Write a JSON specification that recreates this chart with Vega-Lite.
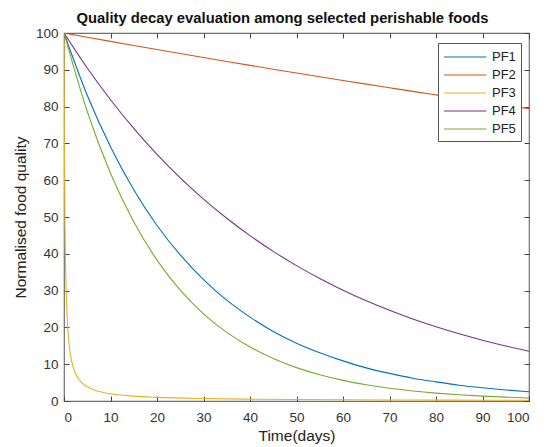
{
  "$schema": "https://vega.github.io/schema/vega-lite/v6.json",
  "width": 465,
  "height": 368,
  "autosize": {"type": "none"},
  "padding": {"left": 64, "top": 33, "right": 22, "bottom": 46},
  "background": "white",
  "config": {
    "font": "Liberation Sans",
    "view": {"stroke": "#707070", "strokeWidth": 1.2},
    "axis": {"grid": false, "domain": false, "tickColor": "#444444", "tickSize": -5, "labelColor": "#333333", "labelFontSize": 13.5, "titleColor": "#222222", "titleFontSize": 15.5, "titleFontWeight": "normal"}
  },
  "title": {"text": "Quality decay evaluation among selected perishable foods", "fontSize": 14.8, "fontWeight": "bold", "color": "#111111", "anchor": "middle", "dx": -14, "offset": 0},
  "data": {"values": [
    {"series": "PF1", "t": 0, "q": 100}, {"series": "PF1", "t": 5, "q": 83.1}, {"series": "PF1", "t": 10, "q": 69.1}, {"series": "PF1", "t": 15, "q": 57.4}, {"series": "PF1", "t": 20, "q": 47.7}, {"series": "PF1", "t": 25, "q": 39.7}, {"series": "PF1", "t": 30, "q": 33.0}, {"series": "PF1", "t": 35, "q": 27.4}, {"series": "PF1", "t": 40, "q": 22.8}, {"series": "PF1", "t": 45, "q": 18.9}, {"series": "PF1", "t": 50, "q": 15.7}, {"series": "PF1", "t": 55, "q": 13.1}, {"series": "PF1", "t": 60, "q": 10.9}, {"series": "PF1", "t": 65, "q": 9.0}, {"series": "PF1", "t": 70, "q": 7.5}, {"series": "PF1", "t": 75, "q": 6.2}, {"series": "PF1", "t": 80, "q": 5.2}, {"series": "PF1", "t": 85, "q": 4.3}, {"series": "PF1", "t": 90, "q": 3.6}, {"series": "PF1", "t": 95, "q": 3.0}, {"series": "PF1", "t": 100, "q": 2.5},
    {"series": "PF2", "t": 0, "q": 100}, {"series": "PF2", "t": 5, "q": 98.86}, {"series": "PF2", "t": 10, "q": 97.73}, {"series": "PF2", "t": 15, "q": 96.61}, {"series": "PF2", "t": 20, "q": 95.5}, {"series": "PF2", "t": 25, "q": 94.41}, {"series": "PF2", "t": 30, "q": 93.33}, {"series": "PF2", "t": 35, "q": 92.26}, {"series": "PF2", "t": 40, "q": 91.2}, {"series": "PF2", "t": 45, "q": 90.16}, {"series": "PF2", "t": 50, "q": 89.13}, {"series": "PF2", "t": 55, "q": 88.11}, {"series": "PF2", "t": 60, "q": 87.1}, {"series": "PF2", "t": 65, "q": 86.1}, {"series": "PF2", "t": 70, "q": 85.12}, {"series": "PF2", "t": 75, "q": 84.14}, {"series": "PF2", "t": 80, "q": 83.18}, {"series": "PF2", "t": 85, "q": 82.23}, {"series": "PF2", "t": 90, "q": 81.29}, {"series": "PF2", "t": 95, "q": 80.36}, {"series": "PF2", "t": 100, "q": 79.45},
    {"series": "PF3", "t": 0, "q": 100}, {"series": "PF3", "t": 0.05, "q": 80}, {"series": "PF3", "t": 0.1, "q": 66.7}, {"series": "PF3", "t": 0.2, "q": 50}, {"series": "PF3", "t": 0.3, "q": 40}, {"series": "PF3", "t": 0.5, "q": 28.6}, {"series": "PF3", "t": 0.75, "q": 21.1}, {"series": "PF3", "t": 1, "q": 16.7}, {"series": "PF3", "t": 1.5, "q": 11.8}, {"series": "PF3", "t": 2, "q": 9.1}, {"series": "PF3", "t": 3, "q": 6.25}, {"series": "PF3", "t": 4, "q": 4.76}, {"series": "PF3", "t": 5, "q": 3.85}, {"series": "PF3", "t": 7, "q": 2.78}, {"series": "PF3", "t": 10, "q": 1.96}, {"series": "PF3", "t": 15, "q": 1.32}, {"series": "PF3", "t": 20, "q": 0.99}, {"series": "PF3", "t": 30, "q": 0.66}, {"series": "PF3", "t": 40, "q": 0.5}, {"series": "PF3", "t": 50, "q": 0.4}, {"series": "PF3", "t": 60, "q": 0.33}, {"series": "PF3", "t": 70, "q": 0.28}, {"series": "PF3", "t": 80, "q": 0.25}, {"series": "PF3", "t": 90, "q": 0.22}, {"series": "PF3", "t": 100, "q": 0.2},
    {"series": "PF4", "t": 0, "q": 100}, {"series": "PF4", "t": 5, "q": 90.48}, {"series": "PF4", "t": 10, "q": 81.87}, {"series": "PF4", "t": 15, "q": 74.08}, {"series": "PF4", "t": 20, "q": 67.03}, {"series": "PF4", "t": 25, "q": 60.65}, {"series": "PF4", "t": 30, "q": 54.88}, {"series": "PF4", "t": 35, "q": 49.66}, {"series": "PF4", "t": 40, "q": 44.93}, {"series": "PF4", "t": 45, "q": 40.66}, {"series": "PF4", "t": 50, "q": 36.79}, {"series": "PF4", "t": 55, "q": 33.29}, {"series": "PF4", "t": 60, "q": 30.12}, {"series": "PF4", "t": 65, "q": 27.25}, {"series": "PF4", "t": 70, "q": 24.66}, {"series": "PF4", "t": 75, "q": 22.31}, {"series": "PF4", "t": 80, "q": 20.19}, {"series": "PF4", "t": 85, "q": 18.27}, {"series": "PF4", "t": 90, "q": 16.53}, {"series": "PF4", "t": 95, "q": 14.96}, {"series": "PF4", "t": 100, "q": 13.53},
    {"series": "PF5", "t": 0, "q": 100}, {"series": "PF5", "t": 5, "q": 78.66}, {"series": "PF5", "t": 10, "q": 61.88}, {"series": "PF5", "t": 15, "q": 48.68}, {"series": "PF5", "t": 20, "q": 38.29}, {"series": "PF5", "t": 25, "q": 30.12}, {"series": "PF5", "t": 30, "q": 23.69}, {"series": "PF5", "t": 35, "q": 18.64}, {"series": "PF5", "t": 40, "q": 14.66}, {"series": "PF5", "t": 45, "q": 11.53}, {"series": "PF5", "t": 50, "q": 9.07}, {"series": "PF5", "t": 55, "q": 7.14}, {"series": "PF5", "t": 60, "q": 5.61}, {"series": "PF5", "t": 65, "q": 4.42}, {"series": "PF5", "t": 70, "q": 3.47}, {"series": "PF5", "t": 75, "q": 2.73}, {"series": "PF5", "t": 80, "q": 2.15}, {"series": "PF5", "t": 85, "q": 1.69}, {"series": "PF5", "t": 90, "q": 1.33}, {"series": "PF5", "t": 95, "q": 1.05}, {"series": "PF5", "t": 100, "q": 0.82}
  ]},
  "layer": [
    {
      "mark": {"type": "line", "strokeWidth": 1.1, "interpolate": "monotone", "clip": true},
      "encoding": {
        "x": {"field": "t", "type": "quantitative", "scale": {"domain": [0, 100], "nice": false}, "axis": {"values": [0,10,20,30,40,50,60,70,80,90,100], "title": "Time(days)", "labelPadding": 14, "titlePadding": 5}},
        "y": {"field": "q", "type": "quantitative", "scale": {"domain": [0, 100], "nice": false}, "axis": {"values": [0,10,20,30,40,50,60,70,80,90,100], "title": "Normalised food quality", "labelPadding": 11, "titlePadding": 7}},
        "color": {"field": "series", "type": "nominal", "scale": {"domain": ["PF1","PF2","PF3","PF4","PF5"], "range": ["#0072BD","#D95319","#EDB120","#7E2F8E","#77AC30"]},
          "legend": {"title": null, "orient": "none", "legendX": 374, "legendY": 10, "symbolType": "M-1,0H4.3", "symbolSize": 256, "symbolStrokeWidth": 1.2, "labelFontSize": 13, "labelColor": "#222222", "strokeColor": "#555555", "fillColor": "white", "padding": 5, "rowPadding": 2, "labelOffset": 31}}
      }
    },
    {
      "mark": {"type": "line", "opacity": 0},
      "encoding": {
        "x": {"field": "t", "type": "quantitative", "scale": {"domain": [0, 100], "nice": false}, "axis": {"orient": "top", "values": [0,10,20,30,40,50,60,70,80,90,100], "labels": false, "title": null}},
        "y": {"field": "q", "type": "quantitative", "scale": {"domain": [0, 100], "nice": false}, "axis": {"orient": "right", "values": [0,10,20,30,40,50,60,70,80,90,100], "labels": false, "title": null}},
        "detail": {"field": "series"}
      }
    }
  ],
  "resolve": {"axis": {"x": "independent", "y": "independent"}}
}
